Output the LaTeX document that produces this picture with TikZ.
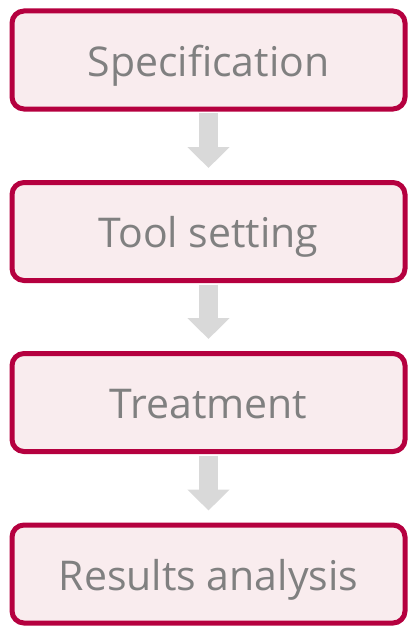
\documentclass[tikz,border=0pt]{standalone}
\usepackage{fontspec}
\setmainfont{Open Sans}
\usetikzlibrary{arrows.meta}
\definecolor{boxborder}{HTML}{B5003F}
\definecolor{boxfill}{HTML}{F9ECEE}
\definecolor{arrowgray}{HTML}{D9D9D9}
\definecolor{textgray}{HTML}{808080}
\begin{document}
\begin{tikzpicture}[x=1pt,y=-1pt,
        stagebox/.style={draw=boxborder,fill=boxfill,line width=5pt,rounded corners=12pt,
            minimum width=393pt,minimum height=98pt,text=textgray,
            text height=32pt,text depth=0pt,
            font=\fontsize{41}{48}\selectfont},
        flowarrow/.style={draw=arrowgray,line width=19.5pt,
            -{Triangle[width=41pt,length=21pt]},shorten <=1.5pt,shorten >=12pt}]
        \useasboundingbox (0,0) rectangle (408,626);
        \node[stagebox] (spec) at (208.5,60) {Specification};
        \node[stagebox] (tool) at (208.5,231.5) {Tool setting};
        \node[stagebox] (treat) at (208.5,402.5) {Treatment};
        \node[stagebox] (res) at (208.5,574) {Results analysis};
        \draw[flowarrow] (spec.south) -- (tool.north);
        \draw[flowarrow] (tool.south) -- (treat.north);
        \draw[flowarrow] (treat.south) -- (res.north);
        \end{tikzpicture}
\end{document}
